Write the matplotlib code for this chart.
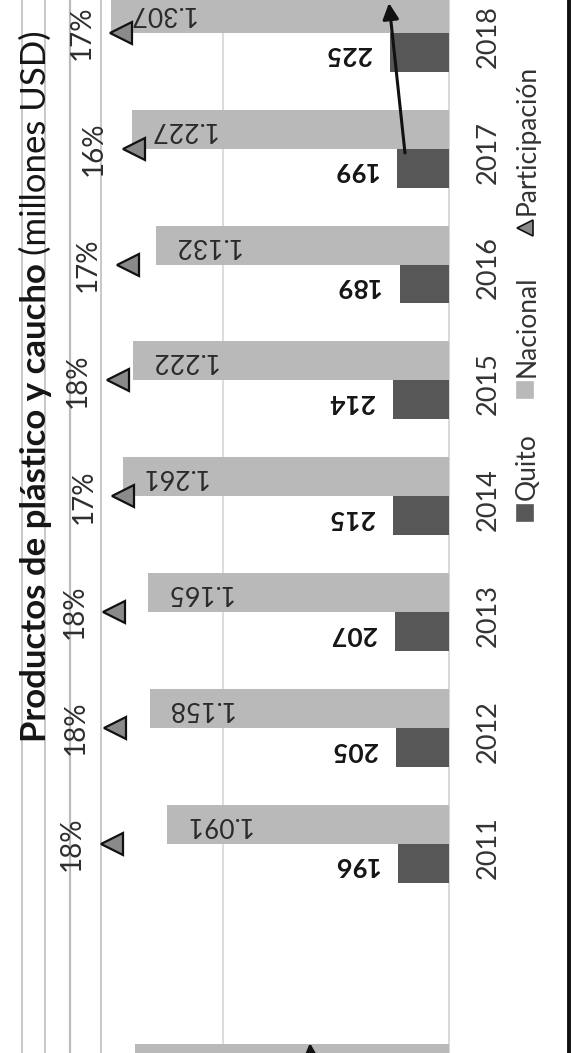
import matplotlib
matplotlib.use("Agg")
import matplotlib.pyplot as plt
import numpy as np
from matplotlib import transforms
from matplotlib.lines import Line2D
from matplotlib.patches import FancyArrowPatch

# ---------------- data ----------------
years = ["2011", "2012", "2013", "2014", "2015", "2016", "2017", "2018"]
quito = [196, 205, 207, 215, 214, 189, 199, 225]
nacional = [1091, 1158, 1165, 1261, 1222, 1132, 1227, 1307]
participacion = [17.96, 17.70, 17.77, 17.05, 17.51, 16.70, 16.22, 17.21]
quito_labels = ["196", "205", "207", "215", "214", "189", "199", "225"]
nacional_labels = ["1.091", "1.158", "1.165", "1.261", "1.222", "1.132", "1.227", "1.307"]
part_labels = ["18%", "18%", "18%", "17%", "18%", "17%", "16%", "17%"]
legend_labels = ["Quito", "Nacional", "Participación"]
title_bold = "Productos de plástico y caucho"
title_rest = "(millones USD)"
# edge of the next chart on the scanned page (only partly visible)
next_value = [1217]
next_label = ["303"]

# ---------------- styling ----------------
NAC = "#b9b9b9"
QUI = "#575757"
TRI = "#8a8a8a"
FONT = ["Lato", "DejaVu Sans"]

W, H = 571, 1053
fig = plt.figure(figsize=(W / 100, H / 100), dpi=100)
fig.patch.set_facecolor("white")


def fx(px):
    return px / W


def fy(py):
    return 1 - py / H


# value axis runs leftwards (the chart is rotated on the page)
X0, K = 448.5, 0.258      # baseline pixel, pixels per unit
Y0, DY = 844.0, 115.9     # first category pixel, pixels per category
ax = fig.add_axes([0, 0, 1, 1])
ax.set_axis_off()
ax.set_xlim(X0 / K, (X0 - W) / K)
ax.set_ylim((Y0 - H) / DY, Y0 / DY)

idx = np.arange(len(years))
bh, off = 0.336, 0.168
ax.barh(idx + off, nacional, height=bh, color=NAC, zorder=2)
ax.barh(idx - off, quito, height=bh, color=QUI, zorder=2)
ax.axvline(0, color="#d2d2d2", lw=1.2, zorder=1)

for i, (v, lab) in enumerate(zip(nacional, nacional_labels)):
    ax.annotate(lab, (v, i + off), xytext=(50, 0), textcoords="offset pixels",
                rotation=180, ha="center", va="center", fontsize=19,
                family=FONT, color="#2a2a2a", zorder=3)
for i, (v, lab) in enumerate(zip(quito, quito_labels)):
    ax.annotate(lab, (v, i - off), xytext=(-42, -2), textcoords="offset pixels",
                rotation=180, ha="center", va="center", fontsize=19,
                fontweight="bold", family=FONT, color="#151515", zorder=3)

# next chart edge at the bottom of the scan
ax.barh([-1.894], next_value, height=bh, color=NAC, zorder=2)
ax.annotate(next_label[0], (next_value[0], -1.894), xytext=(50, 9), textcoords="offset pixels",
            rotation=180, ha="center", va="center", fontsize=19,
            family=FONT, color="#2a2a2a", zorder=3)

# year labels
trans = transforms.blended_transform_factory(fig.transFigure, ax.transData)
for i, y in enumerate(years):
    ax.text(fx(488), i - 0.03, y, transform=trans, rotation=90, ha="center",
            va="center", fontsize=19.5, family=FONT, color="#333333")

# participation on its own scale
P0px, P0, KP = 112.0, 17.96, 12.5
ax2 = fig.add_axes([0, 0, 1, 1], sharey=ax)
ax2.set_axis_off()
ax2.patch.set_alpha(0)
ax2.set_xlim(P0 + P0px / KP, P0 - (W - P0px) / KP)
ax2.plot(participacion, idx, ls="none", marker="<", ms=16, mfc=TRI,
         mec="#111111", mew=1.6, zorder=4)
for i, (p, lab) in enumerate(zip(participacion, part_labels)):
    ax2.annotate(lab, (p, i), xytext=(-40, 0), textcoords="offset pixels",
                 rotation=90, ha="center", va="center", fontsize=20,
                 family=FONT, color="#2e2e2e")

# title (rotated, bold part + normal part)
t1 = fig.text(fx(46), fy(742), title_bold, rotation=90, rotation_mode="anchor",
              ha="left", va="baseline", fontsize=25, fontweight="bold",
              family=FONT, color="#151515")
r = fig.canvas.get_renderer()
bb = t1.get_window_extent(r)
fig.text(fx(46), (bb.y1 + 8) / H, title_rest, rotation=90, rotation_mode="anchor",
         ha="left", va="baseline", fontsize=25, family=FONT, color="#151515")

# legend (rotated)
leg_y = [513, 390, 228]
leg_marker = ["s", "s", "<"]
leg_color = [QUI, NAC, TRI]
for lab, yy, mk, c in zip(legend_labels, leg_y, leg_marker, leg_color):
    fig.add_artist(Line2D([fx(525)], [fy(yy)], marker=mk, ms=11, mfc=c,
                          mec="#111111" if mk == "<" else c, mew=1.2,
                          ls="none", transform=fig.transFigure))
    fig.text(fx(527), fy(yy - 13), lab, rotation=90, rotation_mode="anchor",
             ha="left", va="center", fontsize=19, family=FONT, color="#333333")

# scan frame lines
for px, c, lw in [(22, "#c4c4c4", 1.3), (45, "#c4c4c4", 1.3), (70, "#bcbcbc", 1.6),
                  (101, "#c4c4c4", 1.3), (223, "#d6d6d6", 1.2)]:
    fig.add_artist(Line2D([fx(px)] * 2, [0, 1], color=c, lw=lw,
                          transform=fig.transFigure, zorder=0))
fig.add_artist(Line2D([fx(568.5)] * 2, [0, 1], color="#111111", lw=2.8,
                      transform=fig.transFigure))

# hand-drawn arrows
fig.add_artist(FancyArrowPatch((fx(405), fy(153)), (fx(389), fy(3)),
                               arrowstyle="-|>", mutation_scale=24, lw=2.2,
                               color="#111111", shrinkA=0, shrinkB=0,
                               transform=fig.transFigure))
fig.add_artist(FancyArrowPatch((fx(312), fy(1080)), (fx(310), fy(1043)),
                               arrowstyle="-|>", mutation_scale=24, lw=2.2,
                               color="#111111", shrinkA=0, shrinkB=0,
                               transform=fig.transFigure))

fig.savefig("out.png", dpi=100, facecolor="white")
